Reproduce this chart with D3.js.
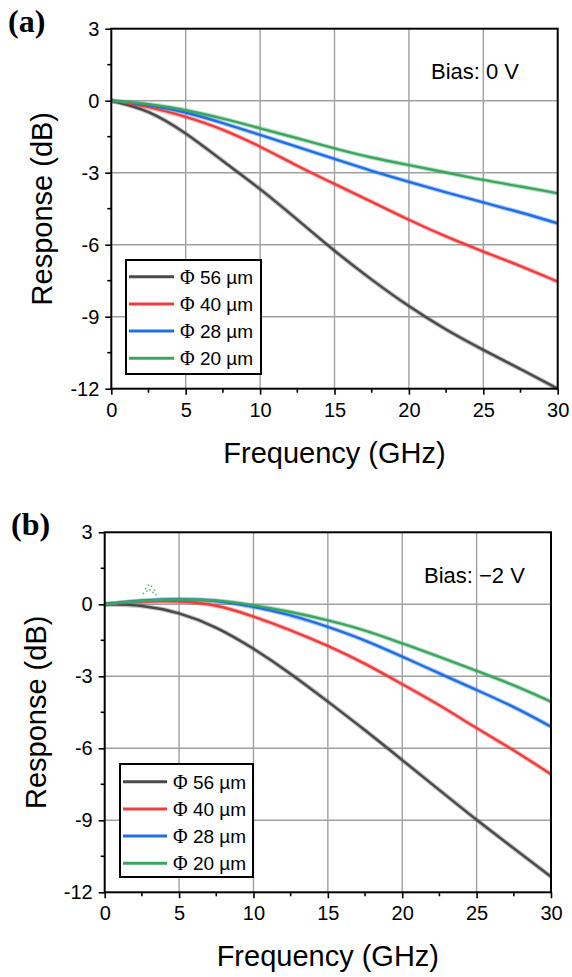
<!DOCTYPE html>
<html><head><meta charset="utf-8">
<script src="https://cdn.jsdelivr.net/npm/d3@7"></script>
<style>body{margin:0;background:#fff;} svg{display:block;}</style>
</head><body>
<svg id="chart" width="572" height="977"></svg>
<script>
// ---- data ----
const freq = [0, 2.5, 5, 7.5, 10, 12.5, 15, 17.5, 20, 22.5, 25, 27.5, 30];
const seriesNames = ["Φ 56 µm", "Φ 40 µm", "Φ 28 µm", "Φ 20 µm"];
const seriesColors = ["#4a4a4a", "#f03c3c", "#1e6ee6", "#3aa65e"];
// Panel (a) Bias 0 V
const a56 = [0, -0.38, -1.33, -2.52, -3.66, -4.95, -6.27, -7.47, -8.58, -9.56, -10.39, -11.18, -12.0];
const a40 = [0, -0.24, -0.66, -1.18, -1.9, -2.72, -3.47, -4.21, -4.97, -5.67, -6.29, -6.88, -7.54];
const a28 = [0, -0.17, -0.46, -0.93, -1.42, -1.92, -2.43, -2.93, -3.38, -3.82, -4.24, -4.65, -5.11];
const a20 = [0, -0.13, -0.38, -0.74, -1.15, -1.56, -1.99, -2.38, -2.68, -2.99, -3.31, -3.57, -3.86];
// Panel (b) Bias -2 V
const b56 = [0, -0.02, -0.33, -0.93, -1.83, -2.88, -4.05, -5.24, -6.49, -7.74, -8.99, -10.17, -11.35];
const b40 = [0, 0.13, 0.14, 0.0, -0.5, -1.07, -1.72, -2.46, -3.33, -4.19, -5.17, -6.07, -7.08];
const b28 = [0, 0.17, 0.22, 0.18, -0.1, -0.44, -0.93, -1.49, -2.18, -2.88, -3.57, -4.26, -5.1];
const b20 = [0, 0.15, 0.22, 0.18, -0.03, -0.31, -0.66, -1.07, -1.63, -2.18, -2.78, -3.36, -4.06];
// measured outlier dots (panel b, Φ 20 µm) near 3 GHz
const bumpF = [2.6, 2.75, 2.85, 2.95, 3.05, 3.15, 3.25, 3.35, 3.45];
const bumpDb = [0.45, 0.65, 0.55, 0.8, 0.6, 0.75, 0.5, 0.6, 0.4];
const xTicks = [0, 5, 10, 15, 20, 25, 30];
const yTicks = [3, 0, -3, -6, -9, -12];

const svg = d3.select("#chart");
const SANS = "'Liberation Sans', Arial, sans-serif";
const SERIF = "'Liberation Serif', 'Times New Roman', serif";

const panels = [
  {label: "(a)", bias: "Bias: 0 V", data: [a56, a40, a28, a20],
   left: 111.3, right: 557.7, top: 28.7, bottom: 388.7,
   labelXY: [8, 32], biasXY: [431, 79], legend: {x: 126, y: 260, w: 135, h: 114, row0: 276.7, dy: 27.2, lx0: 129, lx1: 174, tx: 180},
   xTitleY: 463, yTitleX: 52, bumps: false},
  {label: "(b)", bias: "Bias: \u22122 V", data: [b56, b40, b28, b20],
   left: 104.7, right: 551, top: 532.3, bottom: 892.3,
   labelXY: [11, 535], biasXY: [424, 583], legend: {x: 120, y: 764, w: 133, h: 113, row0: 781.7, dy: 27.2, lx0: 123, lx1: 167, tx: 173},
   xTitleY: 966, yTitleX: 46, bumps: true}
];

panels.forEach(p => {
  const x = d3.scaleLinear().domain([0, 30]).range([p.left, p.right]);
  const y = d3.scaleLinear().domain([-12, 3]).range([p.bottom, p.top]);
  const g = svg.append("g");

  // grid
  g.append("g").selectAll("line").data(xTicks.slice(1, -1)).join("line")
    .attr("x1", d => x(d)).attr("x2", d => x(d)).attr("y1", p.top).attr("y2", p.bottom)
    .attr("stroke", "#a0a0a0").attr("stroke-width", 1.4);
  g.append("g").selectAll("line").data(yTicks.slice(1, -1)).join("line")
    .attr("y1", d => y(d)).attr("y2", d => y(d)).attr("x1", p.left).attr("x2", p.right)
    .attr("stroke", "#a0a0a0").attr("stroke-width", 1.4);

  // curves
  const line = d3.line().x((d, i) => x(freq[i])).y(d => y(d)).curve(d3.curveBasis);
  const cg = g.append("g");
  p.data.forEach((vals, k) => {
    cg.append("path").attr("d", line(vals)).attr("fill", "none")
      .attr("stroke", seriesColors[k]).attr("stroke-opacity", 0.35).attr("stroke-width", 4.5);
  });
  p.data.forEach((vals, k) => {
    cg.append("path").attr("d", line(vals)).attr("fill", "none")
      .attr("stroke", seriesColors[k]).attr("stroke-width", 2.4);
  });
  if (p.bumps) {
    cg.selectAll("circle.bump").data(bumpF).join("circle").attr("class", "bump")
      .attr("cx", d => x(d)).attr("cy", (d, i) => y(bumpDb[i])).attr("r", 0.9)
      .attr("fill", seriesColors[3]).attr("opacity", 0.8);
  }

  // axes
  const xAxis = d3.axisBottom(x).tickValues(xTicks).tickSize(6).tickPadding(8).tickFormat(d3.format("d"));
  const xg = g.append("g").attr("transform", `translate(0,${p.bottom})`).call(xAxis);
  const yAxis = d3.axisLeft(y).tickValues(yTicks).tickSize(6).tickPadding(6).tickFormat(d => d < 0 ? "-" + Math.abs(d) : d);
  const yg = g.append("g").attr("transform", `translate(${p.left},0)`).call(yAxis);
  [xg, yg].forEach(ax => {
    ax.select(".domain").remove();
    ax.selectAll(".tick line").attr("stroke", "#000").attr("stroke-width", 1.6);
    ax.selectAll(".tick text").attr("font-family", SANS).attr("font-size", 20).attr("fill", "#000");
  });
  // minor ticks
  const xMinor = d3.range(2.5, 30, 5);
  g.append("g").selectAll("line").data(xMinor).join("line")
    .attr("x1", d => x(d)).attr("x2", d => x(d)).attr("y1", p.bottom).attr("y2", p.bottom + 4)
    .attr("stroke", "#000").attr("stroke-width", 1.6);
  const yMinor = d3.range(-10.5, 3, 3);
  g.append("g").selectAll("line").data(yMinor).join("line")
    .attr("y1", d => y(d)).attr("y2", d => y(d)).attr("x1", p.left).attr("x2", p.left - 4)
    .attr("stroke", "#000").attr("stroke-width", 1.6);
  // frame
  g.append("rect").attr("x", p.left).attr("y", p.top).attr("width", p.right - p.left).attr("height", p.bottom - p.top)
    .attr("fill", "none").attr("stroke", "#000").attr("stroke-width", 2);

  // titles
  g.append("text").attr("x", (p.left + p.right) / 2).attr("y", p.xTitleY).attr("text-anchor", "middle")
    .attr("font-family", SANS).attr("font-size", 29).text("Frequency (GHz)");
  g.append("text").attr("transform", `translate(${p.yTitleX},${(p.top + p.bottom) / 2}) rotate(-90)`)
    .attr("text-anchor", "middle").attr("font-family", SANS).attr("font-size", 29).text("Response (dB)");
  g.append("text").attr("x", p.labelXY[0]).attr("y", p.labelXY[1])
    .attr("font-family", SERIF).attr("font-weight", "bold").attr("font-size", 32).text(p.label);
  g.append("text").attr("x", p.biasXY[0]).attr("y", p.biasXY[1])
    .attr("font-family", SANS).attr("font-size", 22).text(p.bias);

  // legend
  const L = p.legend;
  const lg = g.append("g");
  lg.append("rect").attr("x", L.x).attr("y", L.y).attr("width", L.w).attr("height", L.h)
    .attr("fill", "#fff").attr("stroke", "#000").attr("stroke-width", 2);
  seriesNames.forEach((name, k) => {
    const yy = L.row0 + k * L.dy;
    lg.append("line").attr("x1", L.lx0).attr("x2", L.lx1).attr("y1", yy).attr("y2", yy)
      .attr("stroke", seriesColors[k]).attr("stroke-width", 3);
    const t = lg.append("text").attr("x", L.tx).attr("y", yy + 7).attr("font-family", SANS).attr("font-size", 19);
    t.append("tspan").attr("font-family", SERIF).attr("font-size", 20).text(name.slice(0, 1));
    t.append("tspan").text(name.slice(1));
  });
});
</script>
</body></html>
